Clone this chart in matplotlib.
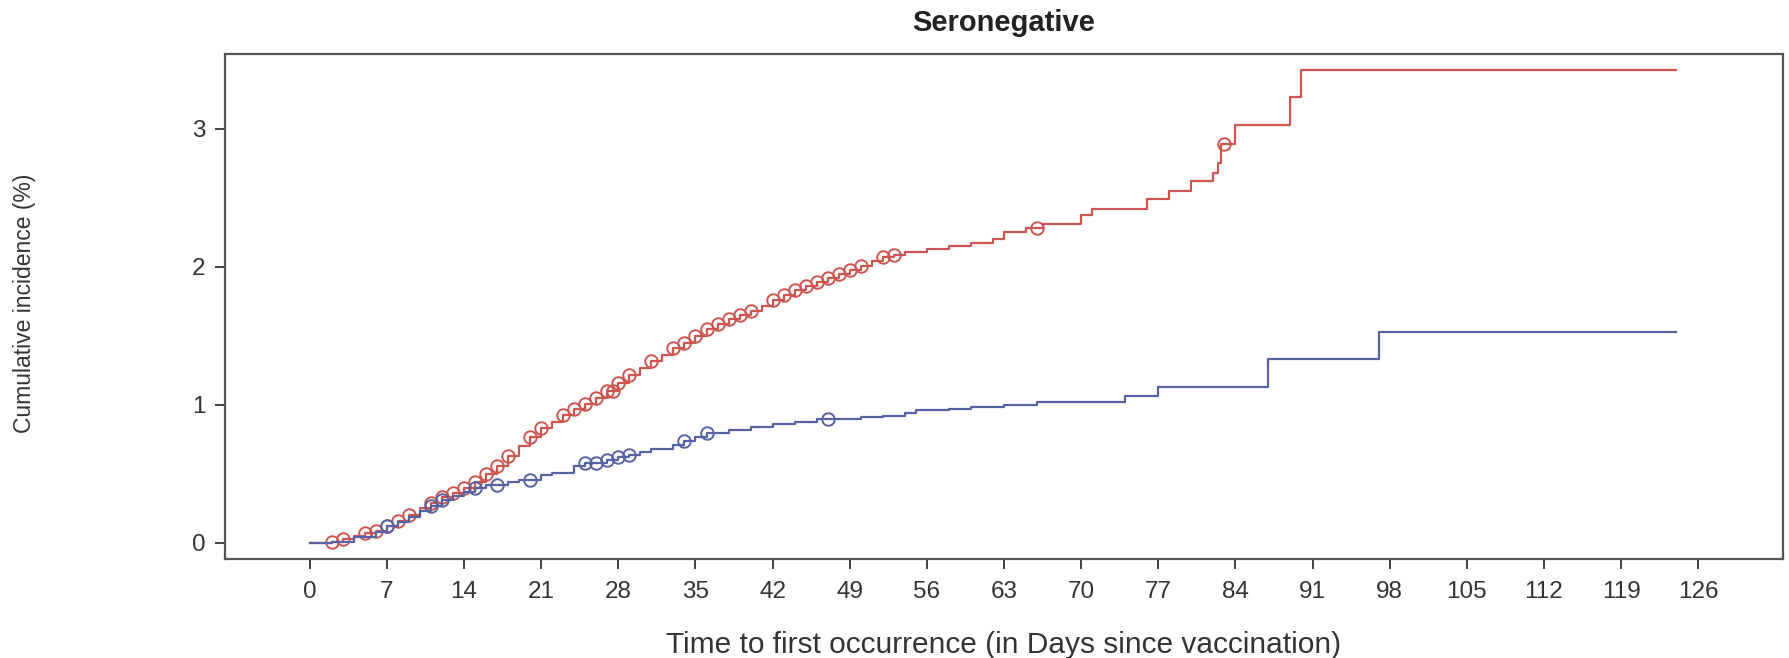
import numpy as np
from matplotlib import pyplot as plt

# cumulative incidence (%) step curves
red_days = [0, 2, 3, 4, 5, 6, 7, 8, 9, 10, 11, 12, 13, 14, 15, 16, 17, 18, 19, 20,
            21, 22, 23, 24, 25, 26, 27, 28, 29, 30, 31, 32, 33, 34, 35, 36, 37, 38, 39, 40,
            41, 42, 43, 44, 45, 46, 47, 48, 49, 50, 51, 52, 53, 54, 56, 58, 60, 62, 63, 65,
            66.5, 70, 71, 76, 78, 80, 82, 82.4, 82.7, 84, 89, 90, 124]
red_cuminc = [0, 0.01, 0.03, 0.05, 0.07, 0.09, 0.12, 0.16, 0.20, 0.25, 0.29, 0.33, 0.36, 0.40, 0.44, 0.50, 0.56, 0.63, 0.70, 0.77,
              0.83, 0.88, 0.93, 0.97, 1.01, 1.05, 1.10, 1.16, 1.22, 1.27, 1.32, 1.36, 1.41, 1.45, 1.50, 1.55, 1.59, 1.62, 1.65, 1.68,
              1.72, 1.76, 1.80, 1.83, 1.86, 1.89, 1.92, 1.95, 1.98, 2.01, 2.04, 2.07, 2.09, 2.11, 2.13, 2.15, 2.17, 2.20, 2.25, 2.28,
              2.31, 2.38, 2.42, 2.49, 2.55, 2.62, 2.68, 2.75, 2.89, 3.03, 3.23, 3.43, 3.43]
red_censored = [2, 3, 5, 6, 7, 8, 9, 11, 12, 13, 14, 15, 16, 17, 18, 20, 21, 23, 24, 25,
                26, 27, 27.5, 28, 29, 31, 33, 34, 35, 36, 37, 38, 39, 40, 42, 43, 44, 45, 46, 47,
                48, 49, 50, 52, 53, 66, 83]

blue_days = [0, 2, 4, 6, 7, 8, 9, 10, 11, 12, 13, 14, 15, 16, 18, 19, 21, 22, 24, 25,
             27, 28, 29, 30, 31, 33, 34, 35, 36, 38, 40, 42, 44, 46, 50, 52, 54, 55, 58, 60,
             63, 66, 74, 77, 87, 97, 124]
blue_cuminc = [0, 0.01, 0.04, 0.08, 0.12, 0.15, 0.19, 0.23, 0.27, 0.31, 0.34, 0.37, 0.40, 0.42, 0.44, 0.46, 0.49, 0.51, 0.56, 0.58,
               0.60, 0.62, 0.64, 0.66, 0.68, 0.71, 0.74, 0.77, 0.80, 0.82, 0.84, 0.86, 0.88, 0.90, 0.91, 0.92, 0.94, 0.96, 0.97, 0.985,
               1.00, 1.02, 1.065, 1.13, 1.33, 1.53, 1.53]
blue_censored = [7, 11, 12, 15, 17, 20, 25, 26, 27, 28, 29, 34, 36, 47]

x_ticks = list(range(0, 127, 7))
y_ticks = [0, 1, 2, 3]

RED = "#cc5550"
BLUE = "#5663a3"


def value_at(days, values, t):
    idx = np.searchsorted(days, t, side="right") - 1
    return np.asarray(values)[idx]


plt.rcParams['font.family'] = ['Liberation Sans', 'DejaVu Sans']

fig = plt.figure(figsize=(17.9, 6.58), dpi=100)
ax = fig.add_axes([225 / 1790, 99 / 658, 1558 / 1790, 505 / 658])

for days, vals, cens, color in [(red_days, red_cuminc, red_censored, RED),
                                (blue_days, blue_cuminc, blue_censored, BLUE)]:
    ax.plot(days, vals, drawstyle="steps-post", color=color, lw=1.6)
    ax.plot(cens, value_at(days, vals, cens), ls="none", marker="o", ms=9,
            mfc="none", mec=color, mew=1.4)

ax.set_xlim(-7.7, 133.7)
ax.set_ylim(-0.116, 3.543)
ax.set_xticks(x_ticks)
ax.set_yticks(y_ticks)
ax.tick_params(direction="out", length=7, width=1.3, colors="#333333", labelsize=17.5, pad=7)
ax.tick_params(axis="x", pad=9)
for s in ax.spines.values():
    s.set_color("#555555")
    s.set_linewidth(1.6)

fig.text(1004 / 1790, 1 - 23 / 658, "Seronegative", ha="center", va="center",
         fontsize=21, fontweight="bold", color="#222222")
fig.text(1004 / 1790, 1 - 645 / 658, "Time to first occurrence (in Days since vaccination)",
         ha="center", va="center", fontsize=21.5, color="#333333")
fig.text(25 / 1790, 1 - 303 / 658, "Cumulative incidence (%)", ha="center", va="center",
         rotation=90, fontsize=16.5, color="#333333")

fig.savefig("out.png", dpi=100)
